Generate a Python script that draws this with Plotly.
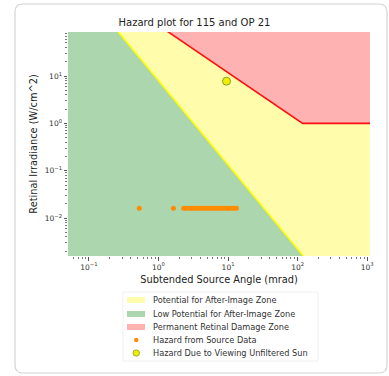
import plotly.graph_objects as go

# ---- data ----
# after-image threshold line (boundary between green and yellow zones)
afterimage_angle = [0.1, 1000]
afterimage_irr = [482, 3.7e-5]
# permanent retinal damage threshold (red line)
burn_angle = [0.5, 118, 2000]
burn_irr = [236, 1.0, 1.0]
# extents used to close the zone polygons (outside visible range)
x_far_left, x_far_right = 0.03, 3000
y_far_low, y_far_high = 3.7e-5, 482

# hazard from source data
source_angle = [0.53, 1.64, 2.3, 2.5, 2.7, 2.9, 3.1, 3.3, 3.6, 3.9, 4.2, 4.5, 4.9,
                5.3, 5.7, 6.1, 6.6, 7.1, 7.7, 8.3, 9.0, 9.7, 10.5, 11.3, 12.2, 13.2]
source_irr = [0.0162] * len(source_angle)
# hazard due to viewing unfiltered sun
sun_angle = [9.5]
sun_irr = [7.8]

# tick positions and labels
x_tick_vals = [0.1, 1, 10, 100, 1000]
x_tick_text = ["10<sup>−1</sup>", "10<sup>0</sup>", "10<sup>1</sup>", "10<sup>2</sup>", "10<sup>3</sup>"]
y_tick_vals = [0.01, 0.1, 1, 10]
y_tick_text = ["10<sup>−2</sup>", "10<sup>−1</sup>", "10<sup>0</sup>", "10<sup>1</sup>"]

title = "Hazard plot for 115 and OP 21"
x_title = "Subtended Source Angle (mrad)"
y_title = "Retinal Irradiance (W/cm^2)"
legend_labels = ["Potential for After-Image Zone", "Low Potential for After-Image Zone",
                 "Permanent Retinal Damage Zone", "Hazard from Source Data",
                 "Hazard Due to Viewing Unfiltered Sun"]

FONT = "DejaVu Sans"
GREEN = "rgb(172,214,174)"
YELLOW = "rgb(255,252,172)"
RED = "rgb(255,178,178)"
ORANGE = "#ff8c00"
SUN_FILL, SUN_EDGE = "#eeee00", "#8fa030"

fig = go.Figure()

# green zone (below after-image line)
fig.add_trace(go.Scatter(
    x=[x_far_left, afterimage_angle[0], afterimage_angle[1], x_far_left, x_far_left],
    y=[y_far_high, afterimage_irr[0], afterimage_irr[1], y_far_low, y_far_high],
    fill="toself", mode="lines", line=dict(width=0), fillcolor=GREEN,
    name=legend_labels[1], showlegend=False, hoverinfo="skip"))
# yellow zone (above after-image line)
fig.add_trace(go.Scatter(
    x=[afterimage_angle[0], x_far_right, x_far_right, afterimage_angle[1], afterimage_angle[0]],
    y=[afterimage_irr[0], y_far_high, y_far_low, afterimage_irr[1], afterimage_irr[0]],
    fill="toself", mode="lines", line=dict(width=0), fillcolor=YELLOW,
    name=legend_labels[0], showlegend=False, hoverinfo="skip"))
# red zone (above burn line)
fig.add_trace(go.Scatter(
    x=burn_angle + [burn_angle[-1], burn_angle[0]],
    y=burn_irr + [y_far_high, y_far_high],
    fill="toself", mode="lines", line=dict(width=0), fillcolor=RED,
    name=legend_labels[2], showlegend=False, hoverinfo="skip"))
# boundary lines
fig.add_trace(go.Scatter(x=afterimage_angle, y=afterimage_irr, mode="lines",
                         line=dict(color="#ffff00", width=1.6), showlegend=False))
fig.add_trace(go.Scatter(x=burn_angle, y=burn_irr, mode="lines",
                         line=dict(color="#ff1010", width=1.6), showlegend=False))
# points
fig.add_trace(go.Scatter(x=source_angle, y=source_irr, mode="markers",
                         marker=dict(color=ORANGE, size=5),
                         name=legend_labels[3], showlegend=False))
fig.add_trace(go.Scatter(x=sun_angle, y=sun_irr, mode="markers",
                         marker=dict(color=SUN_FILL, size=8, line=dict(color=SUN_EDGE, width=1)),
                         name=legend_labels[4], showlegend=False))

L, R, T, B = 68, 19, 32, 120
W, H = 389, 376
pw, ph = W - L - R, H - T - B


def px(x):
    return (x - L) / pw


def py(y):
    return (H - B - y) / ph


# card border with rounded corners (paper coordinates)
x0, x1, y0, y1 = px(15), px(387), py(373), py(4)
rx, ry = 8 / pw, 8 / ph
path = (f"M {x0+rx},{y1} L {x1-rx},{y1} Q {x1},{y1} {x1},{y1-ry} "
        f"L {x1},{y0+ry} Q {x1},{y0} {x1-rx},{y0} L {x0+rx},{y0} "
        f"Q {x0},{y0} {x0},{y0+ry} L {x0},{y1-ry} Q {x0},{y1} {x0+rx},{y1} Z")
fig.add_shape(type="path", path=path, xref="paper", yref="paper",
              line=dict(color="#d4d4d4", width=1.2), fillcolor="rgba(0,0,0,0)", layer="below")

# ---- custom legend (matplotlib-like compact spacing) ----
fig.add_shape(type="rect", xref="paper", yref="paper",
              x0=px(123), x1=px(318), y0=py(361), y1=py(292),
              line=dict(color="#ececec", width=0.8), fillcolor="white", layer="above")
leg_y = [300, 314, 327, 340, 353]
patch_colors = [YELLOW, GREEN, RED]
for i, lab in enumerate(legend_labels):
    yc = leg_y[i]
    if i < 3:
        fig.add_shape(type="rect", xref="paper", yref="paper",
                      x0=px(127), x1=px(145), y0=py(yc + 3), y1=py(yc - 3),
                      line=dict(width=0), fillcolor=patch_colors[i], layer="above")
    elif i == 3:
        fig.add_shape(type="circle", xref="paper", yref="paper",
                      x0=px(134), x1=px(138.5), y0=py(yc + 2.2), y1=py(yc - 2.2),
                      line=dict(width=0), fillcolor=ORANGE, layer="above")
    else:
        fig.add_shape(type="circle", xref="paper", yref="paper",
                      x0=px(133), x1=px(139.5), y0=py(yc + 3.2), y1=py(yc - 3.2),
                      line=dict(color=SUN_EDGE, width=0.8), fillcolor=SUN_FILL, layer="above")
    fig.add_annotation(text=lab, xref="paper", yref="paper", x=px(151), y=py(yc),
                       xanchor="left", yanchor="middle", showarrow=False,
                       font=dict(family=FONT, size=8.2, color="#333"))

axis_common = dict(type="log", showgrid=False, zeroline=False, showline=False,
                   ticks="outside", ticklen=3.5, tickcolor="#555", tickwidth=0.8,
                   tickfont=dict(family=FONT, size=7.5, color="#333"),
                   minor=dict(ticks="outside", ticklen=2, tickcolor="#777", tickwidth=0.6, dtick="D1"))

fig.update_layout(
    width=W, height=H,
    margin=dict(l=L, r=R, t=T, b=B, autoexpand=False),
    paper_bgcolor="white", plot_bgcolor="white",
    title=dict(text=title, x=px(219), xanchor="center", y=1 - 22 / H, yanchor="middle",
               font=dict(family=FONT, size=10, color="#222")),
    xaxis=dict(range=[-1.3, 3.04], tickmode="array", tickvals=x_tick_vals, ticktext=x_tick_text,
               title=dict(text=x_title, font=dict(family=FONT, size=9.8, color="#222"), standoff=5),
               **axis_common),
    yaxis=dict(range=[-2.8, 1.93], tickmode="array", tickvals=y_tick_vals, ticktext=y_tick_text,
               title=dict(text=y_title, font=dict(family=FONT, size=9.8, color="#222"), standoff=5),
               **axis_common),
    showlegend=False,
)

fig.write_html("out.html", config={"displayModeBar": False},
               post_script="document.body.style.margin='0';document.body.style.overflow='hidden';")
